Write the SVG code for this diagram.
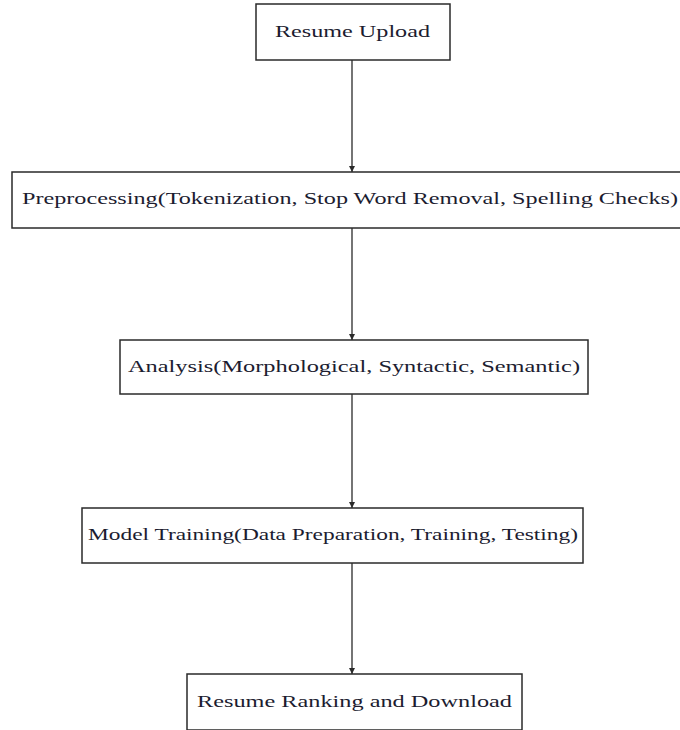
<svg xmlns="http://www.w3.org/2000/svg" width="680" height="730" viewBox="0 0 680 730">
<style>
.box{fill:#fff;stroke:#2a2a2a;stroke-width:1.5}
.lbl{font-family:"Liberation Serif","DejaVu Serif",serif;font-size:16px;fill:#1c1c30;text-anchor:middle}
.edge{stroke:#2a2a2a;stroke-width:1.3;fill:none;marker-end:url(#ah)}
</style>
<defs>
<marker id="ah" viewBox="0 0 10 10" refX="10" refY="5" markerWidth="6" markerHeight="6" markerUnits="userSpaceOnUse" orient="auto">
<path d="M0,0 L10,5 L0,10 Z" fill="#2a2a2a"/>
</marker>
</defs>
<rect width="680" height="730" fill="#fff"/>
<g id="connectors">
<line class="edge" x1="352" y1="60" x2="352" y2="172"/>
<line class="edge" x1="352" y1="228" x2="352" y2="340"/>
<line class="edge" x1="352" y1="394" x2="352" y2="508"/>
<line class="edge" x1="352" y1="563" x2="352" y2="674"/>
</g>
<g id="n1">
<rect class="box" x="256" y="4" width="194" height="56"/>
<text class="lbl" x="352.5" y="37" textLength="155" lengthAdjust="spacingAndGlyphs">Resume Upload</text>
</g>
<g id="n2">
<rect class="box" x="12" y="172" width="670" height="56"/>
<text class="lbl" x="350" y="204" textLength="656" lengthAdjust="spacingAndGlyphs">Preprocessing(Tokenization, Stop Word Removal, Spelling Checks)</text>
</g>
<g id="n3">
<rect class="box" x="120" y="340" width="468" height="54"/>
<text class="lbl" x="354" y="372" textLength="452" lengthAdjust="spacingAndGlyphs">Analysis(Morphological, Syntactic, Semantic)</text>
</g>
<g id="n4">
<rect class="box" x="82" y="508" width="501" height="55"/>
<text class="lbl" x="333" y="540" textLength="490" lengthAdjust="spacingAndGlyphs">Model Training(Data Preparation, Training, Testing)</text>
</g>
<g id="n5">
<rect class="box" x="187" y="674" width="335" height="56"/>
<text class="lbl" x="354.5" y="707" textLength="315" lengthAdjust="spacingAndGlyphs">Resume Ranking and Download</text>
</g>
</svg>
